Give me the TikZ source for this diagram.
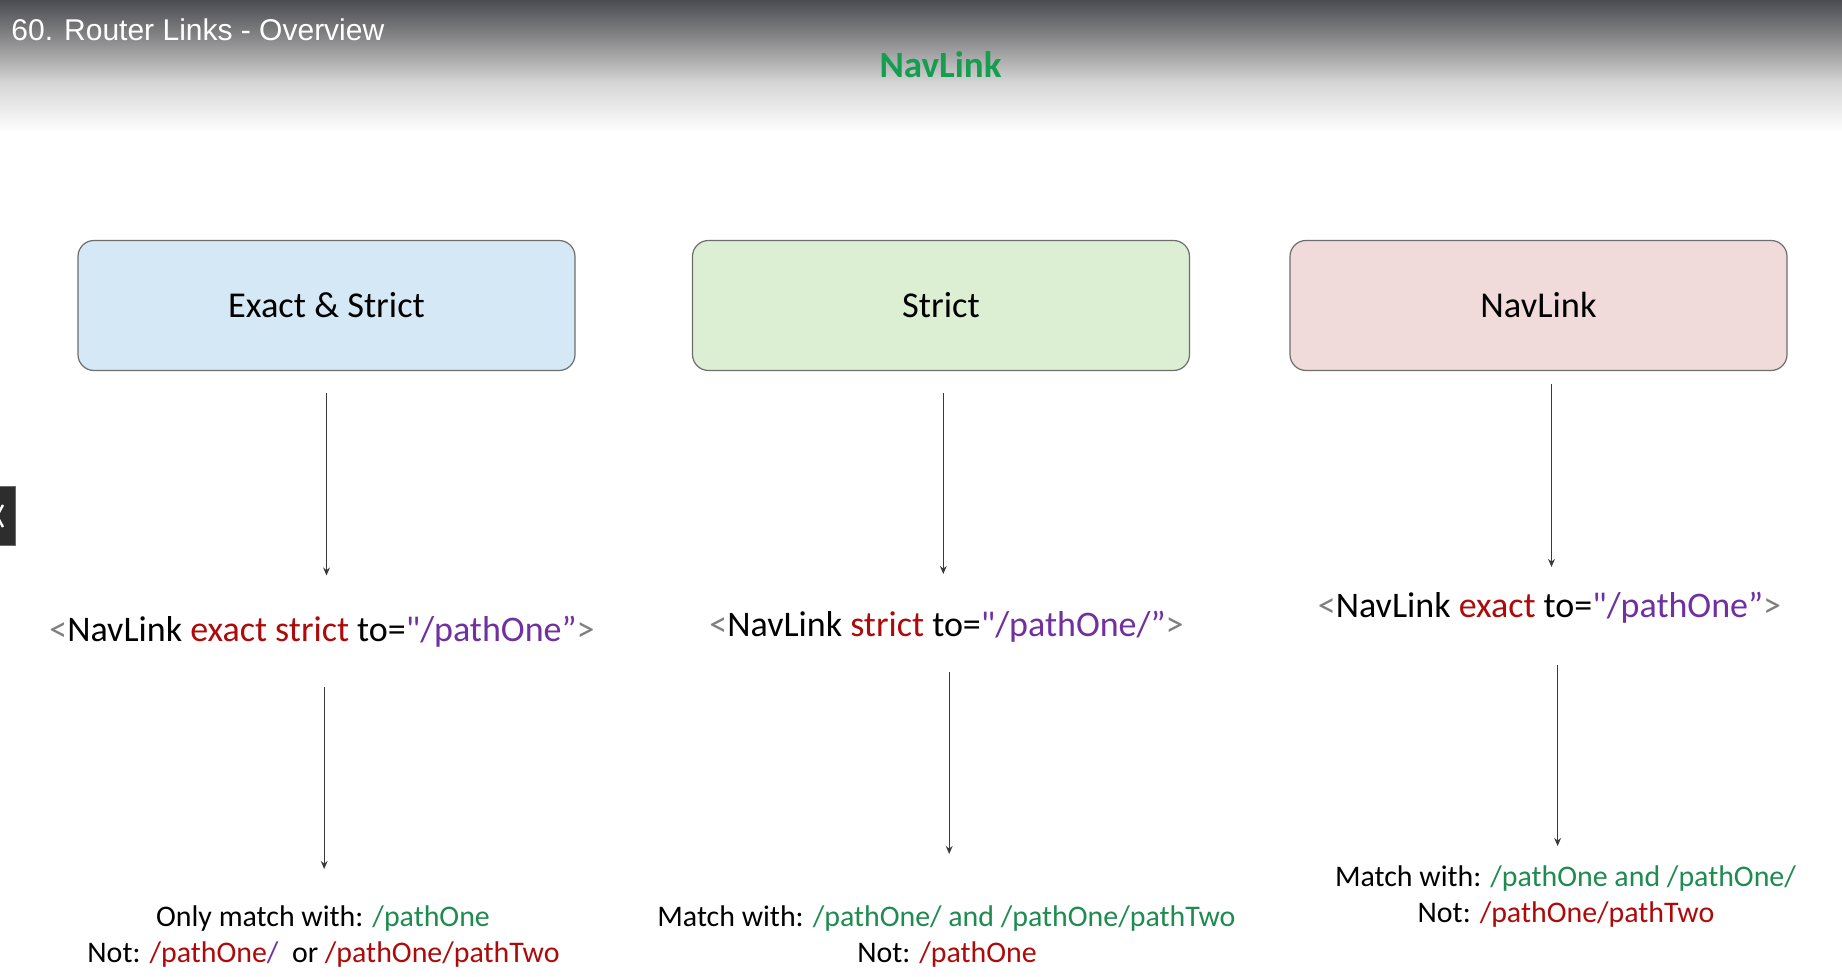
\documentclass[tikz,border=0pt]{standalone}
\usepackage{fontspec}
\setmainfont{Carlito}[Ligatures=TeXOff]
\newfontfamily\hdrfont{Liberation Sans}
\usetikzlibrary{arrows.meta}
\definecolor{hdrdark}{HTML}{4B4C51}
\definecolor{hdrmid}{HTML}{8E8E90}
\definecolor{hdrlight}{HTML}{D4D4D4}
\definecolor{titlegreen}{HTML}{159E4F}
\definecolor{okgreen}{HTML}{1E8B4F}
\definecolor{badred}{HTML}{AE0A0A}
\definecolor{purp}{HTML}{7030A0}
\definecolor{brk}{HTML}{7F7F7F}
\definecolor{boxline}{HTML}{6E6E6E}
\definecolor{fillblue}{HTML}{D4E9F5}
\definecolor{fillgreen}{HTML}{DCEFD3}
\definecolor{fillpink}{HTML}{F0DADA}
\definecolor{arrgray}{HTML}{3A3A3A}
\definecolor{tabdark}{HTML}{2D2D2D}
\definecolor{tabedge}{HTML}{6A6A6A}
\tikzset{
  box/.style={draw=boxline, line width=0.6pt, rounded corners=8pt, minimum width=248.5pt, minimum height=65pt, inner sep=0pt, font=\fontsize{18.2}{22}\selectfont, text=black},
  codeline/.style={inner sep=0pt, anchor=base, font=\fontsize{18}{21}\selectfont},
  result/.style={inner sep=0pt, anchor=base, font=\fontsize{14.95}{17}\selectfont, align=center},
  arr/.style={draw=arrgray, line width=0.7pt, -{Stealth[length=4pt,width=3.4pt]}}
}
\newcommand{\lt}{\textcolor{brk}{<}}
\newcommand{\gt}{\textcolor{brk}{>}}
\begin{document}
\begin{tikzpicture}[x=0.5pt,y=-0.5pt]
\useasboundingbox (0,0) rectangle (1842,977);
\fill[white] (0,0) rectangle (1842,977);
% header gradient
\shade[top color=hdrdark, bottom color=hdrmid] (0,0) rectangle (1842,42);
\shade[top color=hdrmid, bottom color=hdrlight] (0,41.5) rectangle (1842,82);
\shade[top color=hdrlight, bottom color=white] (0,81.5) rectangle (1842,132);
\node[anchor=base west, inner sep=0pt, text=white, font=\hdrfont\fontsize{15}{18}\selectfont] (hdr) at (11,41) {60. Router Links - Overview};
\node[anchor=base, inner sep=0pt, text=titlegreen, font=\bfseries\fontsize{18.5}{22}\selectfont] (title) at (940.5,78) {NavLink};
% side tab
\filldraw[fill=tabdark, draw=tabedge, line width=0.5pt] (-2,487) rectangle (15,546);
\draw[white, line width=1.2pt] (3,505) -- (-3,516) -- (3,527);
% boxes
\node[box, fill=fillblue] (b1) at (326.5,305.5) {Exact \& Strict};
\node[box, fill=fillgreen] (b2) at (941,305.5) {Strict};
\node[box, fill=fillpink] (b3) at (1538.5,305.5) {NavLink};
% code lines
\node[codeline] (c1) at (322,642) {\lt NavLink \textcolor{badred}{exact strict} to=\textcolor{purp}{"/pathOne”}\gt};
\node[codeline] (c2) at (946.5,637) {\lt NavLink \textcolor{badred}{strict} to=\textcolor{purp}{"/pathOne/”}\gt};
\node[codeline] (c3) at (1549.5,618) {\lt NavLink \textcolor{badred}{exact} to=\textcolor{purp}{"/pathOne”}\gt};
% results
\node[result] (r1a) at (323,926.5) {Only match with: \textcolor{okgreen}{/pathOne}};
\node[result] (r1b) at (323.5,962) {Not: \textcolor{badred}{/pathOne}\textcolor{purp}{/}\ \ or \textcolor{badred}{/pathOne/pathTwo}};
\node[result] (r2a) at (946.5,926.5) {Match with: \textcolor{okgreen}{/pathOne/ and /pathOne/pathTwo}};
\node[result] (r2b) at (947,962) {Not: \textcolor{badred}{/pathOne}};
\node[result] (r3a) at (1565.5,886.5) {Match with: \textcolor{okgreen}{/pathOne and /pathOne/}};
\node[result] (r3b) at (1566,922) {Not: \textcolor{badred}{/pathOne/pathTwo}};
% arrow end points
\coordinate (a1s) at (326.5,393.5); \coordinate (a1e) at (326.5,575.5);
\coordinate (a2s) at (943.3,393.5); \coordinate (a2e) at (943.3,574);
\coordinate (a3s) at (1551.5,384);  \coordinate (a3e) at (1551.5,567);
\coordinate (d1s) at (324.2,687);   \coordinate (d1e) at (324.2,869);
\coordinate (d2s) at (949.2,672);   \coordinate (d2e) at (949.2,854);
\coordinate (d3s) at (1557.6,665);  \coordinate (d3e) at (1557.6,846);
\draw[arr] (a1s) -- (a1e);
\draw[arr] (a2s) -- (a2e);
\draw[arr] (a3s) -- (a3e);
\draw[arr] (d1s) -- (d1e);
\draw[arr] (d2s) -- (d2e);
\draw[arr] (d3s) -- (d3e);
\end{tikzpicture}
\end{document}
